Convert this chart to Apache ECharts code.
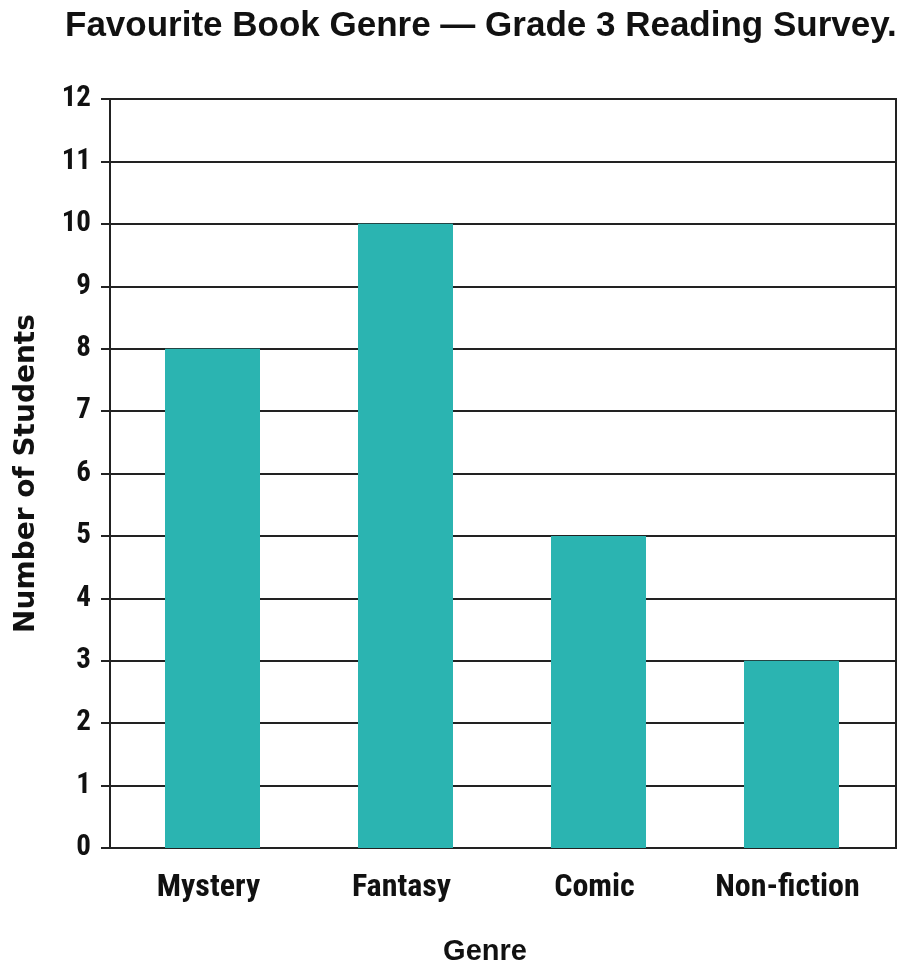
<!DOCTYPE html>
<html><head><meta charset="utf-8">
<script src="https://cdn.jsdelivr.net/npm/echarts@6/dist/echarts.min.js"></script>
<style>html,body{margin:0;padding:0;background:#fff}#c{width:908px;height:964px}</style>
</head><body><div id="c"></div>
<script>
const titleText = 'Favourite Book Genre — Grade 3 Reading Survey.';
const categories = ['Mystery', 'Fantasy', 'Comic', 'Non-fiction'];
const students = [8, 10, 5, 3];
const yTicks = [0, 1, 2, 3, 4, 5, 6, 7, 8, 9, 10, 11, 12];
const xName = 'Genre';
const yName = 'Number of Students';

const NARROW = '"Roboto Condensed", "DejaVu Sans Condensed", sans-serif';
const WIDE = '"Liberation Sans", Arial, sans-serif';
const INK = '#111';
const LINE = '#222';
const yMin = yTicks[0], yMax = yTicks[yTicks.length - 1];

const chart = echarts.init(document.getElementById('c'), null, {renderer: 'canvas'});
chart.setOption({
  backgroundColor: '#ffffff',
  animation: false,
  title: {
    text: titleText, left: 60, top: 4,
    textStyle: {fontFamily: WIDE, fontWeight: 'bold', fontSize: 35, color: INK}
  },
  grid: [
    {left: 110, right: 12, top: 99, bottom: 116, show: true, borderColor: LINE, borderWidth: 2,
     containLabel: false, outerBoundsMode: 'none'},
    {left: 116, right: 20, top: 99, bottom: 116, containLabel: false, outerBoundsMode: 'none'}
  ],
  xAxis: [
    {gridIndex: 0, type: 'value', min: 0, max: 1, show: false},
    {
      gridIndex: 1, type: 'category', data: categories,
      name: xName, nameLocation: 'middle', nameGap: 89,
      nameTextStyle: {fontFamily: WIDE, fontWeight: 'bold', fontSize: 29, color: INK, padding: [0, 34, 0, 0]},
      axisLine: {show: false}, axisTick: {show: false},
      axisLabel: {interval: 0, fontFamily: NARROW, fontWeight: 'bold', fontSize: 32, color: INK, margin: 24,
        padding: [0, 8, 0, 0]}
    }
  ],
  yAxis: [
    {
      gridIndex: 0, type: 'value', min: yMin, max: yMax, interval: 1,
      name: yName, nameLocation: 'middle', nameGap: 69, nameRotate: 90,
      nameTextStyle: {fontFamily: '"DejaVu Sans", sans-serif', fontWeight: 'bold', fontSize: 28, color: INK},
      axisLine: {show: true, lineStyle: {color: LINE, width: 2}},
      axisTick: {show: true, length: 9, lineStyle: {color: LINE, width: 2}},
      splitLine: {show: true, lineStyle: {color: LINE, width: 2}},
      axisLabel: {fontFamily: NARROW, fontWeight: 'bold', fontSize: 29, color: INK, margin: 19}
    },
    {gridIndex: 1, type: 'value', min: yMin, max: yMax, interval: 1, show: false, splitLine: {show: false}}
  ],
  series: [{
    type: 'bar', data: students, xAxisIndex: 1, yAxisIndex: 1, barWidth: 95,
    itemStyle: {color: '#2bb4b1'}, z: 5
  }]
});
</script></body></html>
